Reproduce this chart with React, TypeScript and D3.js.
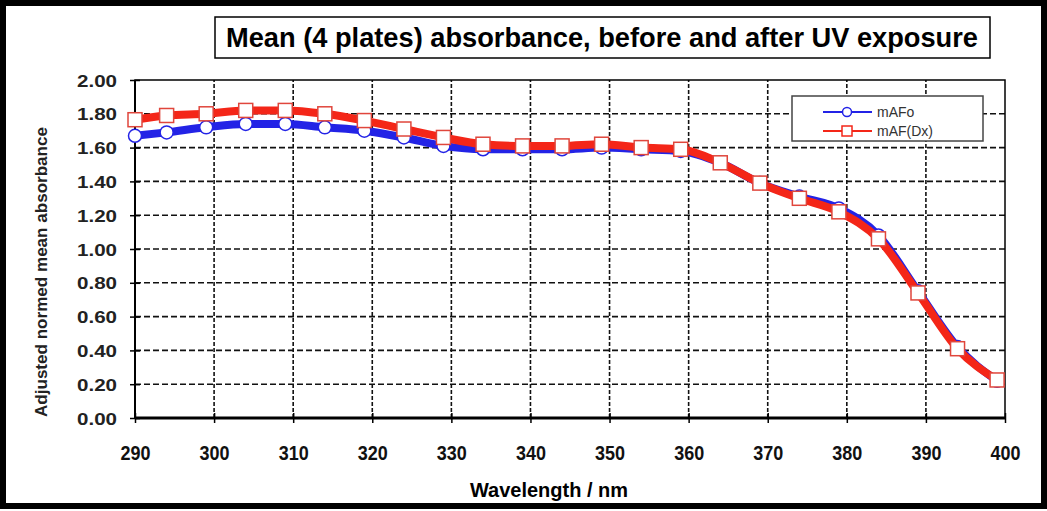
import React, { useEffect, useRef } from "react";
import * as d3 from "d3";

const width = 1047;
const height = 511;
const margin = { top: 80, right: 42, bottom: 93, left: 135 };

// wavelength of each measured point
const wavelengths = [290, 294, 299, 304, 309, 314, 319, 324, 329, 334, 339, 344, 349, 354, 359, 364, 369, 374, 379, 384, 389, 394, 399];
// mAFo (before)
const mAFo = [1.67, 1.69, 1.72, 1.74, 1.74, 1.72, 1.70, 1.66, 1.61, 1.59, 1.59, 1.59, 1.60, 1.59, 1.58, 1.51, 1.39, 1.31, 1.24, 1.08, 0.75, 0.42, 0.22];
// mAF(Dx) (after)
const mAFDx = [1.765, 1.79, 1.80, 1.82, 1.82, 1.80, 1.76, 1.71, 1.66, 1.62, 1.61, 1.61, 1.62, 1.60, 1.59, 1.51, 1.39, 1.30, 1.22, 1.06, 0.74, 0.41, 0.225];

const xTicks = [290, 300, 310, 320, 330, 340, 350, 360, 370, 380, 390, 400];
const yTicks = [0, 0.2, 0.4, 0.6, 0.8, 1.0, 1.2, 1.4, 1.6, 1.8, 2.0];

const titleText = "Mean (4 plates) absorbance, before and after UV exposure";
const xTitle = "Wavelength / nm";
const yTitle = "Adjusted normed mean absorbance";

const blue = "#2323e6";
const red = "#f42618";
const font = "'Liberation Sans', Arial, sans-serif";

export default function App() {
  const ref = useRef<SVGSVGElement>(null);

  useEffect(() => {
    const svg = d3.select(ref.current);
    svg.selectAll("*").remove();

    const x = d3.scaleLinear().domain([290, 400]).range([margin.left, width - margin.right]);
    const y = d3.scaleLinear().domain([0, 2]).range([height - margin.bottom, margin.top]);

    // outer frame
    svg.append("rect").attr("x", 3).attr("y", 3).attr("width", width - 6).attr("height", height - 8)
      .attr("fill", "#fff").attr("stroke", "#000").attr("stroke-width", 6);

    // title box (narrow font imitated with textLength)
    svg.append("rect").attr("x", 215).attr("y", 17).attr("width", 775).attr("height", 41)
      .attr("fill", "#fff").attr("stroke", "#000").attr("stroke-width", 1.5);
    svg.append("text").attr("x", 602).attr("y", 47).attr("text-anchor", "middle")
      .attr("font-family", font).attr("font-weight", "bold").attr("font-size", 28)
      .attr("textLength", 752).attr("lengthAdjust", "spacingAndGlyphs").text(titleText);

    // grid
    const grid = svg.append("g").attr("stroke", "#111").attr("stroke-width", 1.6).attr("stroke-dasharray", "6,3");
    yTicks.slice(1, -1).forEach((t) => {
      grid.append("line").attr("x1", x(290)).attr("x2", x(400)).attr("y1", y(t)).attr("y2", y(t));
    });
    xTicks.slice(1, -1).forEach((t) => {
      grid.append("line").attr("x1", x(t)).attr("x2", x(t)).attr("y1", y(0)).attr("y2", y(2)).attr("stroke-dasharray", "4,2");
    });

    // plot frame
    svg.append("rect").attr("x", x(290)).attr("y", y(2)).attr("width", x(400) - x(290)).attr("height", y(0) - y(2))
      .attr("fill", "none").attr("stroke", "#000").attr("stroke-width", 1.5);
    svg.append("line").attr("x1", x(290)).attr("x2", x(400)).attr("y1", y(0)).attr("y2", y(0))
      .attr("stroke", "#000").attr("stroke-width", 3);
    svg.append("line").attr("x1", x(290)).attr("x2", x(290)).attr("y1", y(0)).attr("y2", y(2))
      .attr("stroke", "#000").attr("stroke-width", 2);

    // axes
    const xAxis = d3.axisBottom(x).tickValues(xTicks).tickSize(6).tickFormat(d3.format("d"));
    const gx = svg.append("g").attr("transform", `translate(0,${y(0)})`).call(xAxis);
    gx.select(".domain").remove();
    gx.selectAll("line").attr("y1", -5).attr("y2", 5).attr("stroke-width", 1.5);
    gx.selectAll("text").attr("dy", 0).attr("y", 42)
      .attr("font-family", font).attr("font-weight", "bold").attr("font-size", 21)
      .attr("textLength", 30).attr("lengthAdjust", "spacingAndGlyphs").attr("fill", "#111");

    const yAxis = d3.axisLeft(y).tickValues(yTicks).tickSize(6).tickFormat(d3.format(".2f"));
    const gy = svg.append("g").attr("transform", `translate(${x(290)},0)`).call(yAxis);
    gy.select(".domain").remove();
    gy.selectAll("line").attr("x1", -5).attr("x2", 5).attr("stroke-width", 1.5);
    gy.selectAll("text").attr("x", -18).attr("dy", "0.36em")
      .attr("font-family", font).attr("font-weight", "bold").attr("font-size", 17)
      .attr("textLength", 40).attr("lengthAdjust", "spacingAndGlyphs").attr("fill", "#222");

    // axis titles
    svg.append("text").attr("x", 549).attr("y", 497).attr("text-anchor", "middle")
      .attr("font-family", font).attr("font-weight", "bold").attr("font-size", 20)
      .attr("textLength", 158).attr("lengthAdjust", "spacingAndGlyphs").text(xTitle);
    svg.append("text").attr("transform", `translate(47,272) rotate(-90)`).attr("text-anchor", "middle")
      .attr("font-family", font).attr("font-weight", "bold").attr("font-size", 16.5)
      .attr("textLength", 290).attr("lengthAdjust", "spacingAndGlyphs").attr("fill", "#222").text(yTitle);

    const line = d3.line<number>().x((d, i) => x(wavelengths[i])).y((d) => y(d)).curve(d3.curveMonotoneX);

    // blue series
    svg.append("path").datum(mAFo).attr("d", line).attr("fill", "none").attr("stroke", blue).attr("stroke-width", 8);
    svg.append("g").selectAll("circle").data(mAFo).join("circle")
      .attr("cx", (d, i) => x(wavelengths[i])).attr("cy", (d) => y(d)).attr("r", 6.5)
      .attr("fill", "#fff").attr("stroke", blue).attr("stroke-width", 1.5);

    // red series
    svg.append("path").datum(mAFDx).attr("d", line).attr("fill", "none").attr("stroke", red).attr("stroke-width", 8);
    svg.append("g").selectAll("rect").data(mAFDx).join("rect")
      .attr("x", (d, i) => x(wavelengths[i]) - 7).attr("y", (d) => y(d) - 7)
      .attr("width", 14).attr("height", 14)
      .attr("fill", "#fff").attr("stroke", "#e0463c").attr("stroke-width", 1.5);

    // legend
    const lg = svg.append("g");
    lg.append("rect").attr("x", 792).attr("y", 96).attr("width", 191).attr("height", 45)
      .attr("fill", "#fff").attr("stroke", "#444").attr("stroke-width", 1.5);
    const items = [{ label: "mAFo", color: blue, y: 112 }, { label: "mAF(Dx)", color: red, y: 131 }];
    items.forEach((it, i) => {
      lg.append("line").attr("x1", 823).attr("x2", 872).attr("y1", it.y).attr("y2", it.y)
        .attr("stroke", it.color).attr("stroke-width", 2);
      if (i === 0) {
        lg.append("circle").attr("cx", 847).attr("cy", it.y).attr("r", 4.5)
          .attr("fill", "#fff").attr("stroke", it.color).attr("stroke-width", 1.5);
      } else {
        lg.append("rect").attr("x", 842).attr("y", it.y - 5).attr("width", 10).attr("height", 10)
          .attr("fill", "#fff").attr("stroke", it.color).attr("stroke-width", 1.5);
      }
      lg.append("text").attr("x", 877).attr("y", it.y + 5)
        .attr("font-family", font).attr("font-size", 14).attr("fill", "#333").text(it.label);
    });
  }, []);

  return (
    <svg ref={ref} width={width} height={height} style={{ position: "absolute", left: 0, top: 0, background: "#fff" }} />
  );
}
